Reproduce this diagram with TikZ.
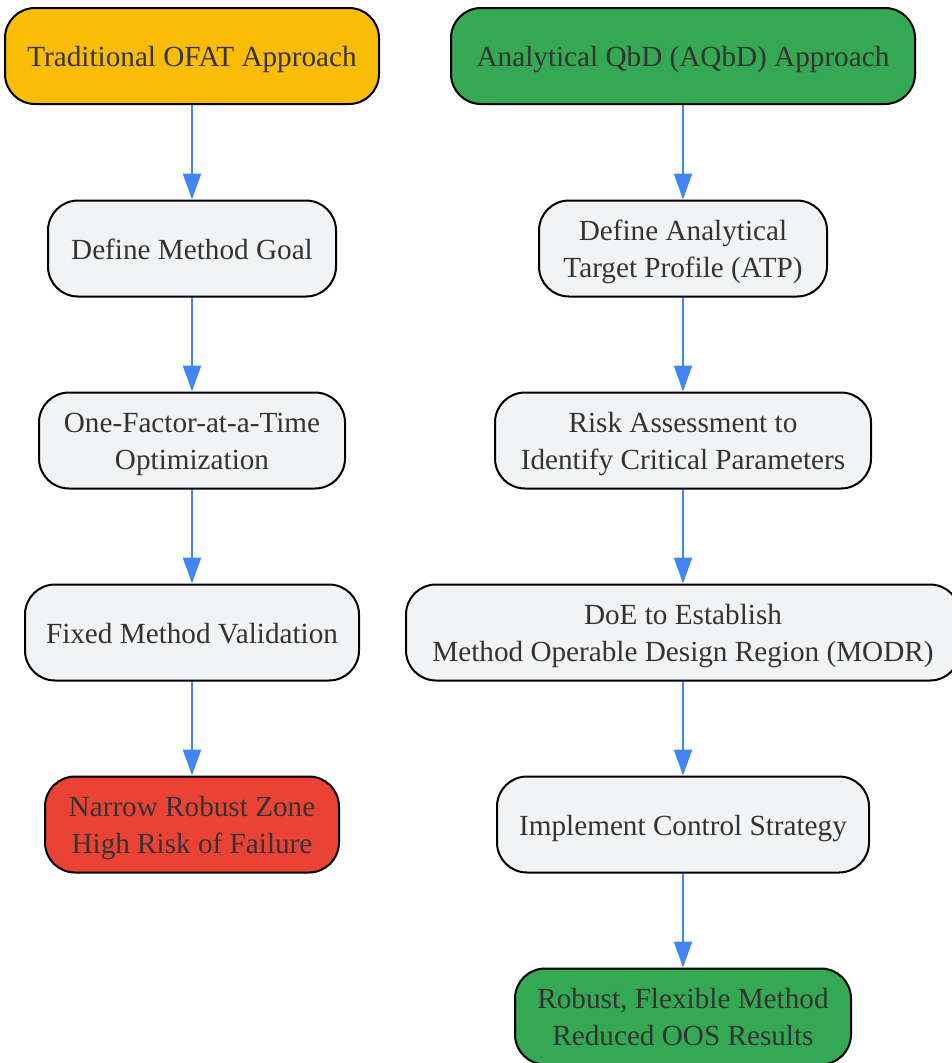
\documentclass[tikz,border=0pt]{standalone}
\usepackage{fontspec}
\setmainfont{Liberation Serif}
\usetikzlibrary{arrows.meta}
\definecolor{txt}{HTML}{333333}
\definecolor{fyellow}{HTML}{FBBC05}
\definecolor{fgreen}{HTML}{34A853}
\definecolor{fred}{HTML}{EA4335}
\definecolor{fgray}{HTML}{F1F3F4}
\definecolor{ablue}{HTML}{4285F4}
\newcommand\lst{\rule[-7pt]{0pt}{35.2pt}}
\tikzset{
  box/.style={draw=black, line width=2pt, rounded corners=30pt, inner sep=0pt,
    align=center, text=txt, font=\fontsize{29.2}{36.3}\selectfont, minimum height=96pt},
  graybox/.style={box, fill=fgray},
  flow/.style={draw=ablue, line width=2.5pt, -{Triangle[length=26pt,width=18pt]}}
}
\begin{document}
\begin{tikzpicture}[x=1pt,y=-1pt]
\useasboundingbox (0,0) rectangle (952,1063);
% left column
\node[box, fill=fyellow, minimum width=374pt] (l0) at (192,56) {\lst Traditional OFAT Approach};
\node[graybox, minimum width=288pt] (l1) at (192,248.5) {\lst Define Method Goal};
\node[graybox, minimum width=306pt] (l2) at (192,440.5) {\lst One-Factor-at-a-Time\\\lst Optimization};
\node[graybox, minimum width=334pt] (l3) at (192,632.5) {\lst Fixed Method Validation};
\node[box, fill=fred, minimum width=294pt] (l4) at (192,824.5) {\lst Narrow Robust Zone\\\lst High Risk of Failure};
% right column
\node[box, fill=fgreen, minimum width=464pt] (r0) at (683,56) {\lst Analytical QbD (AQbD) Approach};
\node[graybox, minimum width=288pt] (r1) at (683,248.5) {\lst Define Analytical\\\lst Target Profile (ATP)};
\node[graybox, minimum width=376pt] (r2) at (683,440.5) {\lst Risk Assessment to\\\lst Identify Critical Parameters};
\node[graybox, minimum width=554pt] (r3) at (683,632.5) {\lst DoE to Establish\\\lst Method Operable Design Region (MODR)};
\node[graybox, minimum width=372pt] (r4) at (683,824.5) {\lst Implement Control Strategy};
\node[box, fill=fgreen, minimum width=336pt] (r5) at (683,1016.5) {\lst Robust, Flexible Method\\\lst Reduced OOS Results};
% connectors
\draw[flow] (l0) -- (l1);
\draw[flow] (l1) -- (l2);
\draw[flow] (l2) -- (l3);
\draw[flow] (l3) -- (l4);
\draw[flow] (r0) -- (r1);
\draw[flow] (r1) -- (r2);
\draw[flow] (r2) -- (r3);
\draw[flow] (r3) -- (r4);
\draw[flow] (r4) -- (r5);
\end{tikzpicture}
\end{document}
